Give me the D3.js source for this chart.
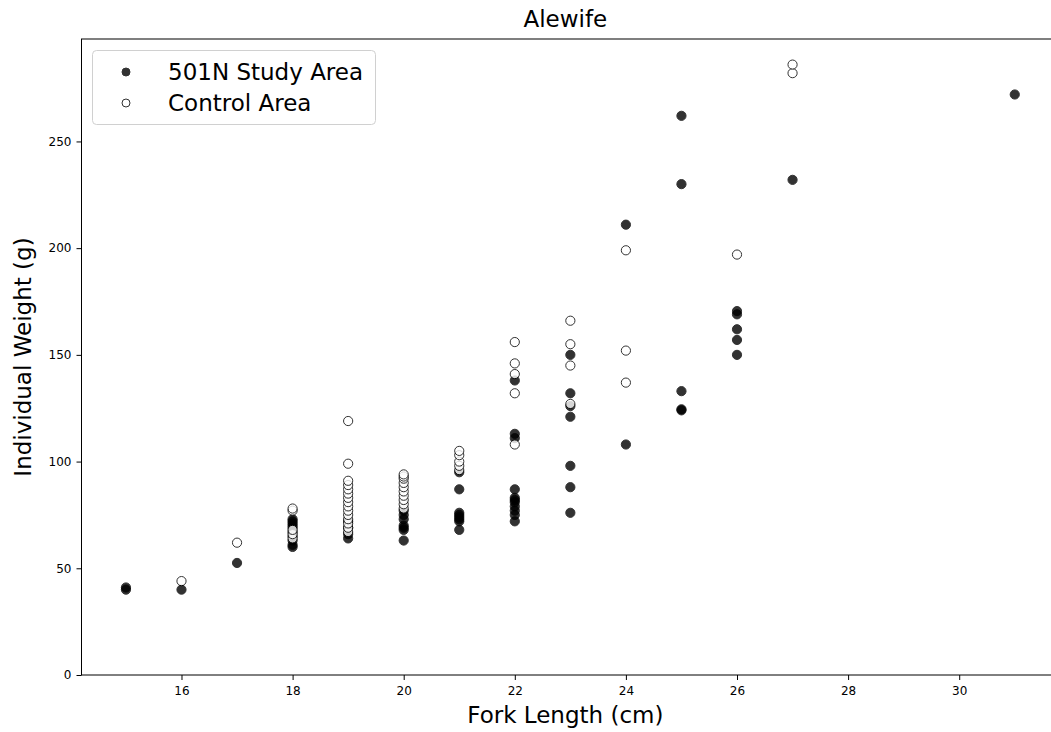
<!DOCTYPE html>
<html>
<head>
<meta charset="utf-8">
<script src="https://cdn.jsdelivr.net/npm/d3@7"></script>
<style>
  html, body { margin: 0; padding: 0; background: #fff; }
  svg { display: block; font-family: "DejaVu Sans", sans-serif; }
</style>
</head>
<body>
<svg id="chart" width="1051" height="732"></svg>
<script>
// ---- Data ----
const studyLength = [15,15,16,17,
  18,18,18,18,18,18,18,18,18,18,
  19,19,19,19,
  20,20,20,20,20,20,20,
  21,21,21,21,21,21,21,21,
  22,22,22,22,22,22,22,22,22,22,22,
  23,23,23,23,23,23,23,
  24,24,
  25,25,25,25,25,
  26,26,26,26,26,
  27,31];
const studyWeight = [40,41,40,52.5,
  60,61,63,65,67,69,70,71,72,73,
  64,66,69,72,
  63,68,69,70,73,75,77,
  68,72,73,74,75,76,87,95,
  72,75,77,79,81,82,83,87,111,113,138,
  76,88,98,121,126,132,150,
  108,211,
  124,124.5,133,230,262,
  150,157,162,169,170.5,
  232,272];

const controlLength = [16,17,
  18,18,18,18,18,
  19,19,19,19,19,19,19,19,19,19,19,19,19,19,19,
  20,20,20,20,20,20,20,20,20,20,
  21,21,21,21,21,
  22,22,22,22,22,
  23,23,23,23,
  24,24,24,
  26,
  27,27];
const controlWeight = [44,62,
  64,66,68,77,78,
  67,69,71,73,75,77,79,81,83,85,87,89,91,99,119,
  78,80,82,84,86,88,90,92,93,94,
  96,98,100,103,105,
  108,132,141,146,156,
  127,145,155,166,
  137,152,199,
  197,
  282,286];

const xTicks = [16,18,20,22,24,26,28,30];
const yTicks = [0,50,100,150,200,250];
const seriesNames = ["501N Study Area", "Control Area"];
const titleText = "Alewife";
const xLabel = "Fork Length (cm)";
const yLabel = "Individual Weight (g)";

// ---- Layout ----
const svg = d3.select("#chart");
const mLeft = 81.5, mRight = 1059.2, mTop = 39, mBottom = 675;
const x = d3.scaleLinear().domain([14.2, 31.8]).range([mLeft, mRight]);
const y = d3.scaleLinear().domain([0, 298]).range([mBottom, mTop]);

// axes
const xAxis = d3.axisBottom(x).tickValues(xTicks).tickSize(5).tickPadding(6).tickFormat(d3.format("d"));
const yAxis = d3.axisLeft(y).tickValues(yTicks).tickSize(5).tickPadding(5).tickFormat(d3.format("d"));

const gx = svg.append("g").attr("transform", `translate(0,${mBottom})`).call(xAxis);
const gy = svg.append("g").attr("transform", `translate(${mLeft},0)`).call(yAxis);
[gx, gy].forEach(g => {
  g.select(".domain").remove();
  g.selectAll("text").attr("font-size", 12).attr("fill", "#000").attr("font-family", "DejaVu Sans, sans-serif");
  g.selectAll("line").attr("stroke", "#000").attr("stroke-width", 1);
});

// spines
svg.append("rect")
  .attr("x", mLeft).attr("y", mTop)
  .attr("width", mRight - mLeft).attr("height", mBottom - mTop)
  .attr("fill", "none").attr("stroke", "#000").attr("stroke-width", 1);

// points
const r = 4.6;
const study = studyLength.map((d, i) => [d, studyWeight[i]]);
const control = controlLength.map((d, i) => [d, controlWeight[i]]);

svg.append("g").selectAll("circle").data(study).join("circle")
  .attr("cx", d => x(d[0])).attr("cy", d => y(d[1])).attr("r", r)
  .attr("fill", "#000").attr("stroke", "#000").attr("stroke-width", 1)
  .attr("opacity", 0.8);

svg.append("g").selectAll("circle").data(control).join("circle")
  .attr("cx", d => x(d[0])).attr("cy", d => y(d[1])).attr("r", r)
  .attr("fill", "#fff").attr("stroke", "#000").attr("stroke-width", 1)
  .attr("opacity", 0.8);

// title and labels
svg.append("text").attr("x", (mLeft + mRight) / 2 - 5).attr("y", 27)
  .attr("text-anchor", "middle").attr("font-size", 23).text(titleText);
svg.append("text").attr("x", (mLeft + mRight) / 2 - 5).attr("y", 723)
  .attr("text-anchor", "middle").attr("font-size", 23).text(xLabel);
svg.append("text").attr("transform", `translate(31,${(mTop + mBottom) / 2}) rotate(-90)`)
  .attr("text-anchor", "middle").attr("font-size", 23).text(yLabel);

// legend
const lg = svg.append("g");
lg.append("rect").attr("x", 92.5).attr("y", 50.5).attr("width", 283).attr("height", 74)
  .attr("rx", 4).attr("fill", "#fff").attr("fill-opacity", 0.8)
  .attr("stroke", "#d0d0d0").attr("stroke-width", 1);
const legendRows = [
  {name: seriesNames[0], fill: "#000"},
  {name: seriesNames[1], fill: "#fff"}
];
legendRows.forEach((row, i) => {
  const cy = 72 + i * 31;
  lg.append("circle").attr("cx", 126).attr("cy", cy).attr("r", 4)
    .attr("fill", row.fill).attr("stroke", "#000").attr("stroke-width", 1).attr("opacity", 0.8);
  lg.append("text").attr("x", 168).attr("y", cy + 8).attr("font-size", 23).text(row.name);
});
</script>
</body>
</html>
